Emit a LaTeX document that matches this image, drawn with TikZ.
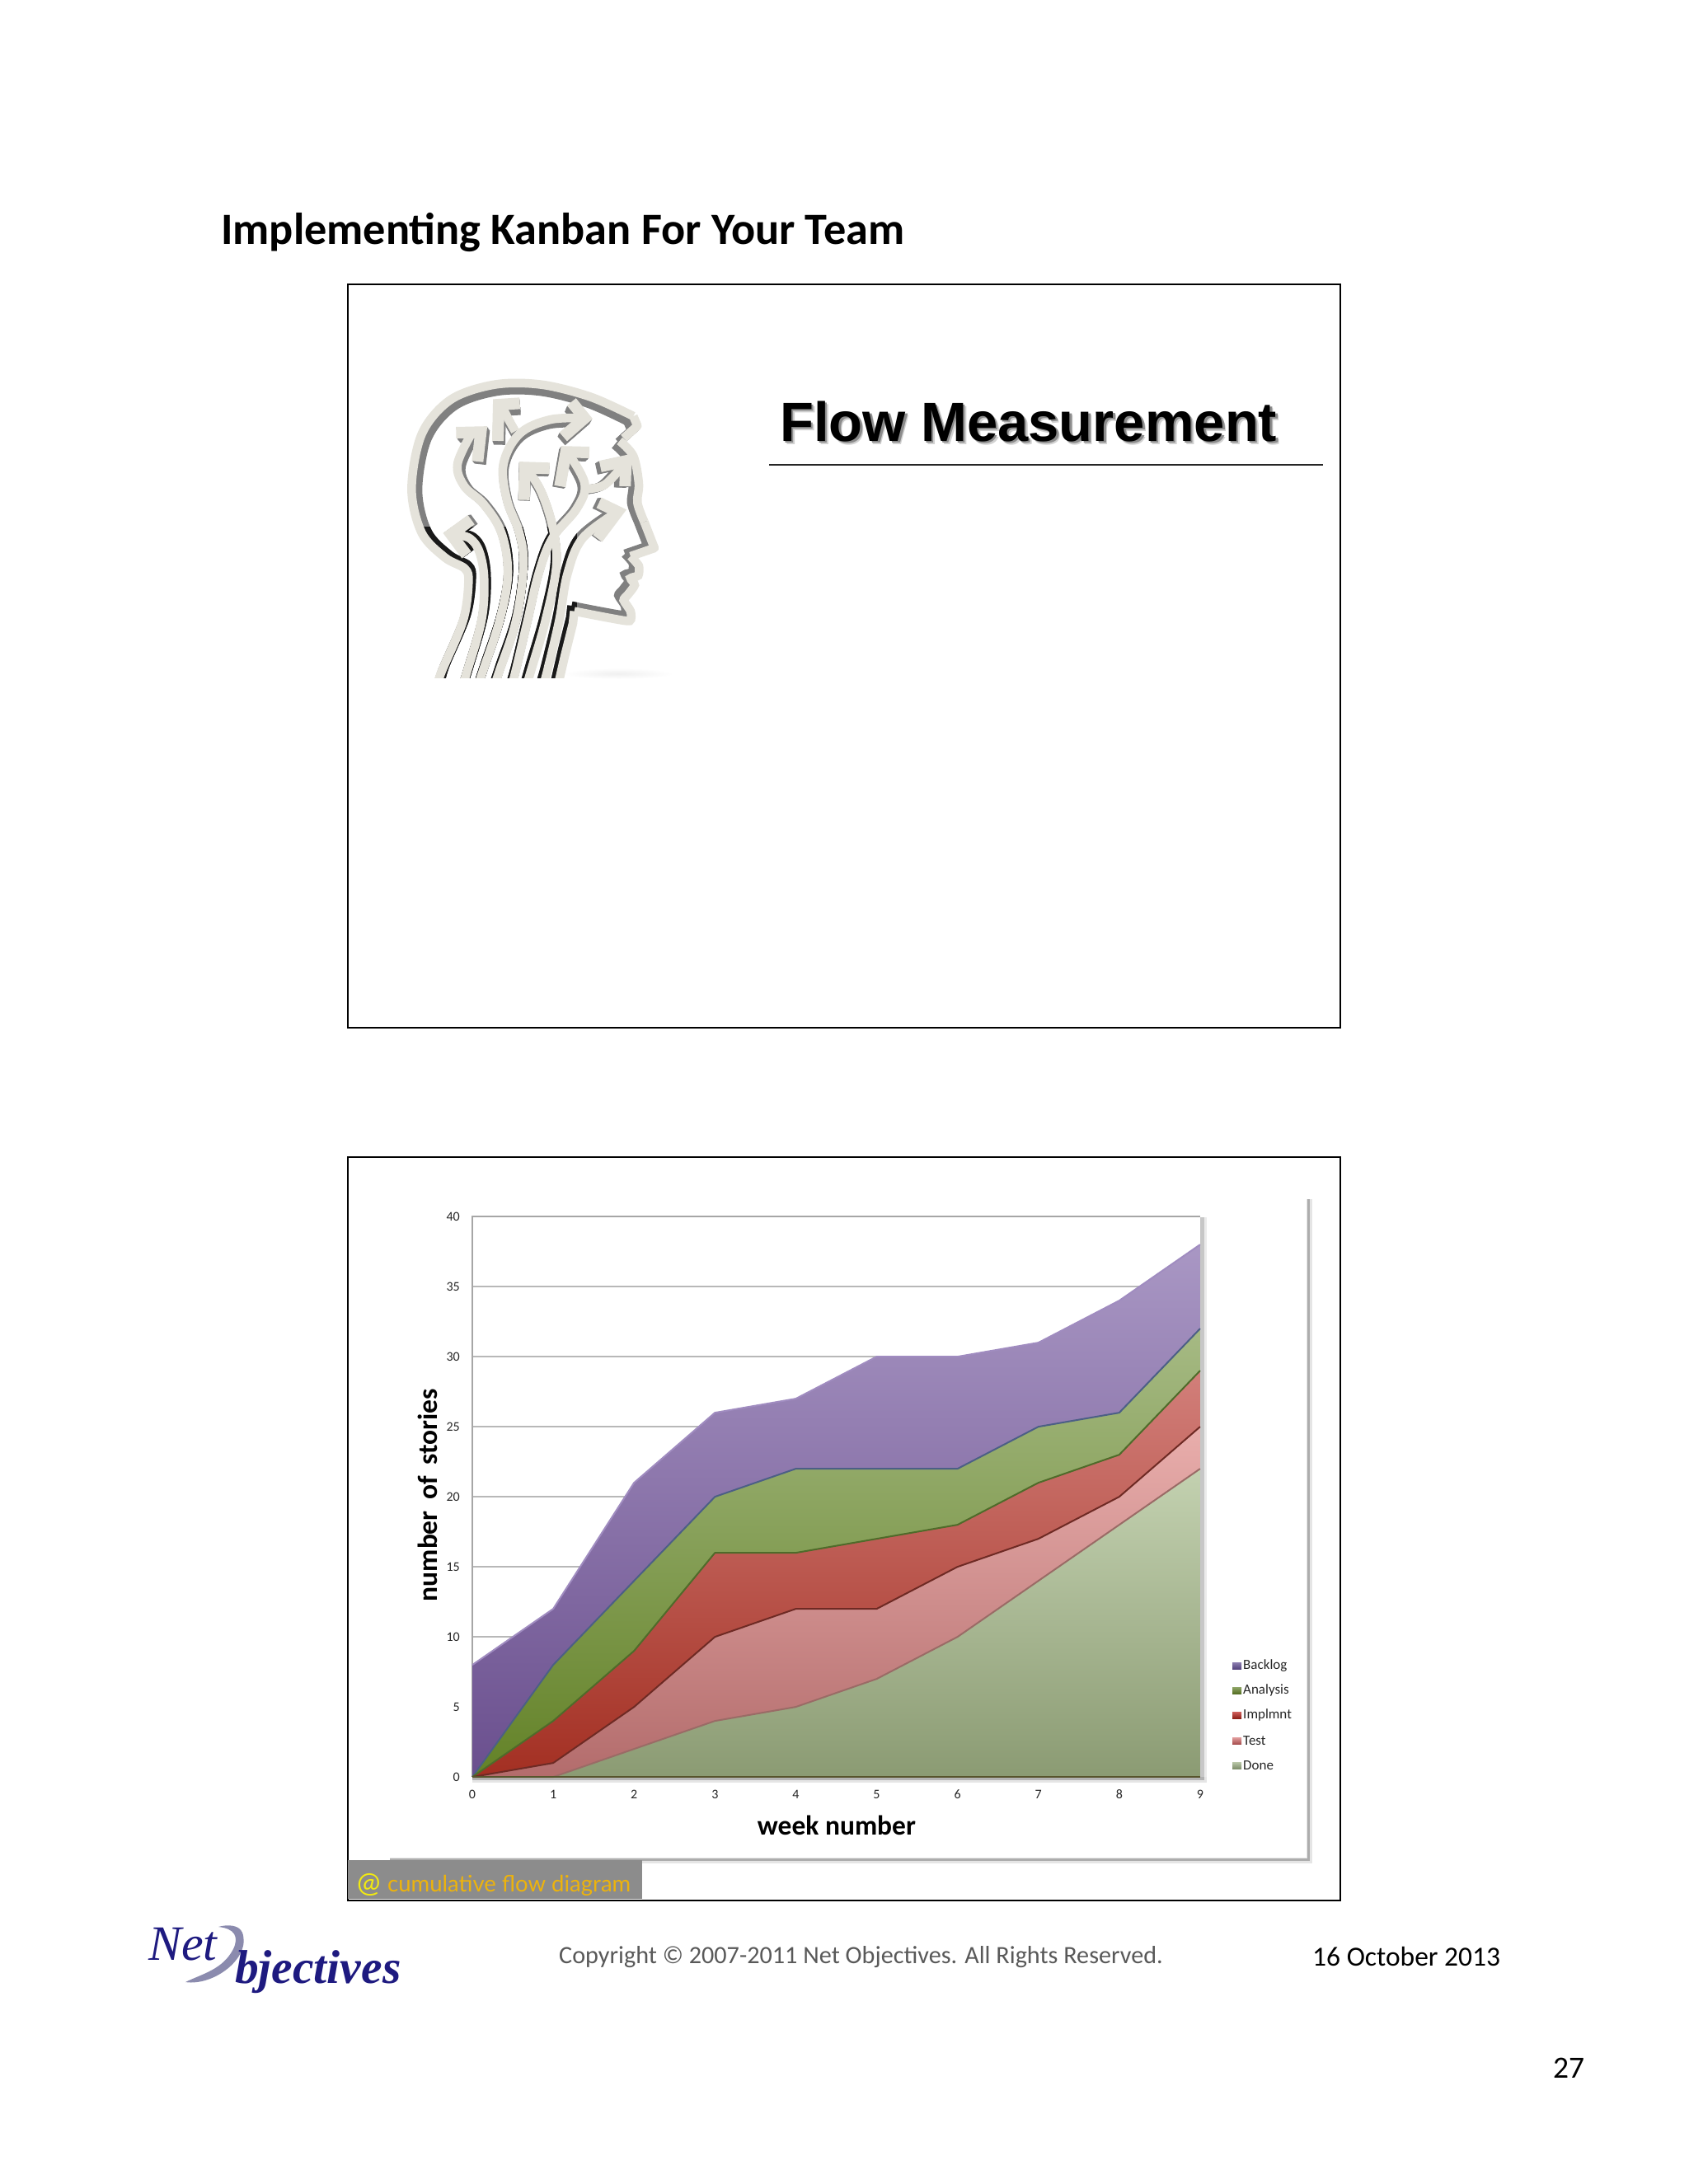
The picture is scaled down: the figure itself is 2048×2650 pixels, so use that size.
\documentclass[tikz,border=0pt]{standalone}
\usepackage{fontspec}
\usetikzlibrary{calc}
\setmainfont{Carlito}
\newfontfamily\helv{Liberation Sans}
\newfontfamily\timesf{Liberation Serif}
\newfontfamily\gill{Lato}
\newcommand\fs[1]{\fontsize{#1}{#1}\selectfont}
\definecolor{bandc}{HTML}{E5E3DB}
\definecolor{navy}{HTML}{1E1A80}
\definecolor{capgold}{HTML}{EDB30C}
\definecolor{capyellow}{HTML}{F2EA10}
\tikzset{
  slideframe/.style={draw=black,line width=2pt,fill=white},
  band/.style={line width=10.5pt,line join=miter,miter limit=3,line cap=butt},
  chevron/.style={line width=14pt,line join=miter,miter limit=4},
  tick/.style={font=\fs{16},text=black!85,inner sep=0pt},
  legendtext/.style={font=\fs{17},text=black!85,anchor=west,inner sep=0pt},
  grid line/.style={draw=black!28,line width=1.3pt},
}
% head pieces, in coordinates of a 3x enlargement of the image
\newcommand\headpaths[1]{%
 \begin{scope}[draw=#1,band]
  % strands behind
  \draw plot[smooth,tension=.6] coordinates {(590,1260)(610,1190)(665,1000)(705,800)(692,660)(650,530)(600,450)};
  \draw[chevron] (680,445)--(590,442)--(587,560);
  \draw plot[smooth,tension=.6] coordinates {(355,1260)(378,1190)(432,1000)(442,850)(425,750)(390,700)(335,685)};
  \draw[chevron] (395,632)--(322,685)--(378,760);
  \draw plot[smooth,tension=.6] coordinates {(412,1260)(435,1190)(498,1000)(528,830)(505,680)(440,575)(370,510)(345,430)(395,320)};
  \draw[chevron] (340,315)--(430,313)--(418,420);
  \draw plot[smooth,tension=.6] coordinates {(555,310)(530,265)(505,215)};
  \draw[chevron] (572,208)--(495,213)--(492,345);
  \draw plot[smooth,tension=.6] coordinates {(472,1260)(495,1190)(558,1000)(585,800)(570,680)(525,560)(512,430)(570,320)(680,268)(805,262)};
  \draw[chevron] (760,203)--(808,262)--(730,330);
  \draw plot[smooth,tension=.6] coordinates {(805,520)(880,505)(955,425)};
  \draw[chevron] (865,438)--(958,418)--(955,510);
  \draw plot[smooth,tension=.6] coordinates {(535,1260)(555,1190)(600,1000)(640,830)(690,700)(780,590)(808,500)(745,385)};
  \draw[chevron] (825,387)--(740,385)--(718,510);
  \draw plot[smooth,tension=.6] coordinates {(650,1260)(670,1190)(715,1000)(745,830)(800,700)(925,605)};
  \draw[chevron] (860,570)--(928,603)--(855,700);
  % outline of the head
  \draw plot[smooth,tension=.55] coordinates {(265,1260)(285,1190)(365,1000)(385,860)(372,810)(300,770)(215,680)(178,520)(215,320)(320,195)(480,140)(650,140)(830,185)(985,255)};
  \draw[line join=round] (985,255)--(1000,290)--(950,335);
  \draw plot[smooth,tension=.55] coordinates {(935,345)(985,400)(1005,500)(1000,570)(1025,640)};
  \draw[line join=round] (1025,640)--(1062,735)--(975,765);
  \draw plot[smooth,tension=.4] coordinates {(975,765)(1005,800)(1003,835)(975,845)(990,870)(965,905)(950,925)(975,965)(972,1000)(900,990)(770,965)};
  \draw (770,965)--(765,1010)--(735,1130)--(705,1260);
 \end{scope}}
\newcommand\extrude[1]{%
 \foreach \s in {.945,.955,.965,.975,.985}{%
  \begin{scope}[shift={(600,600)},scale=\s,shift={(-600,-600)}]
    \headpaths{#1}
  \end{scope}}}
\begin{document}
\begin{tikzpicture}[x=1pt,y=-1pt]
\useasboundingbox (0,0) rectangle (2048,2650);
\fill[white] (0,0) rectangle (2048,2650);
% page title
\node[anchor=base west,inner sep=0pt,font=\bfseries\fs{54.3}] (title) at (268,296) {Implementing Kanban For Your Team};
% top slide
\node[slideframe,minimum width=1204pt,minimum height=902pt,anchor=north west,inner sep=0pt] (slideA) at (421,344) {};
\node[anchor=base west,inner sep=0pt,font=\helv\bfseries\fs{67},text=black!18] (flowshadowb) at (950,539) {Flow Measurement};
\node[anchor=base west,inner sep=0pt,font=\helv\bfseries\fs{67},text=black!45] (flowshadow) at (948.5,537.5) {Flow Measurement};
\node[anchor=base west,inner sep=0pt,font=\helv\bfseries\fs{67}] (flow) at (946,535) {Flow Measurement};
\coordinate (ruleL) at (933,564); \coordinate (ruleR) at (1605,564);
\draw[line width=1.5pt,black!85] (ruleL)--(ruleR);
% head
\begin{scope}[shift={(440,420)},x=.3333pt,y=-.3333pt]
  \shade[inner color=black!6,outer color=white] (930,1192) ellipse (200 and 20);
  \begin{scope}
    \clip (140,100) rectangle (1120,1208);
    \extrude{black!50}
    \begin{scope}
      \clip (140,660) rectangle (780,1208);
      \extrude{black!90}
    \end{scope}
    \headpaths{bandc}
  \end{scope}
\end{scope}
% bottom slide
\node[slideframe,minimum width=1204pt,minimum height=902pt,anchor=north west,inner sep=0pt] (slideB) at (421,1403) {};
\coordinate (panelTR) at (1587,1455); \coordinate (panelBR) at (1587,2256); \coordinate (panelBL) at (473,2256);
\draw[black!10,line width=7pt] ($(panelTR)+(1,0)$)--($(panelBR)+(1,1)$)--($(panelBL)+(0,1)$);
\draw[black!32,line width=3pt] (panelTR)--(panelBR)--(panelBL);
% chart
\begin{scope}[x=98.1pt,y=17pt,shift={(5.841,-126.83)}]
  % (0,0) of the chart is at x=573, y=2156
  \foreach \v in {5,10,...,35} \draw[grid line] (0,\v)--(9,\v);
  \draw[black!35,line width=1.3pt] (0,0)--(0,40)--(9,40);
  \fill[black!8] ($(9,40)+(0pt,-1pt)$) rectangle ($(9,0)+(8pt,-7pt)$);
  \fill[black!22] ($(9,40)+(0pt,-1pt)$) rectangle ($(9,0)+(5pt,-4pt)$);
  \fill[black!10] (0,0) rectangle ($(9,0)+(8pt,-7pt)$);
  \fill[black!30] (0,0) rectangle ($(9,0)+(5pt,-4pt)$);
  \foreach \pts/\ct/\cb/\ce/\mx in {
    {(0,8)(1,12)(2,21)(3,26)(4,27)(5,30)(6,30)(7,31)(8,34)(9,38)}/A997C4/6A4F8E/A08CC0/38,
    {(0,0)(1,8)(2,14)(3,20)(4,22)(5,22)(6,22)(7,25)(8,26)(9,32)}/A6BA84/638227/4C5F86/32,
    {(0,0)(1,4)(2,9)(3,16)(4,16)(5,17)(6,18)(7,21)(8,23)(9,29)}/D27F7A/A32F22/4F6B2A/29,
    {(0,0)(1,1)(2,5)(3,10)(4,12)(5,12)(6,15)(7,17)(8,20)(9,25)}/E9AEAC/B36C6C/6E2A24/25,
    {(0,0)(1,0)(2,2)(3,4)(4,5)(5,7)(6,10)(7,14)(8,18)(9,22)}/C3D1B0/8B9B73/9A6B66/22}{
    \definecolor{areatop}{HTML}{\ct}
    \definecolor{areabot}{HTML}{\cb}
    \definecolor{areaedge}{HTML}{\ce}
    \begin{scope}
      \edef\doclip{\noexpand\clip (0,0) -- plot coordinates {\pts} -- (9,0) -- cycle;}
      \doclip
      \shade[top color=areatop,bottom color=areabot] (0,\mx) rectangle (9,0);
    \end{scope}
    \edef\doedge{\noexpand\draw[areaedge,line width=2pt,line join=round] plot coordinates {\pts};}
    \doedge
  }
  \draw[black!50!olive,line width=2.2pt] (0,0)--(9,0);
  \foreach \v in {0,5,...,40} \node[tick,anchor=east] (yt\v) at ($(0,\v)+(-15pt,0pt)$) {\v};
  \foreach \v in {0,...,9} \node[tick] (xt\v) at ($(\v,0)+(0pt,-21pt)$) {\v};
\end{scope}
\node[font=\bfseries\fs{33.5},inner sep=0pt] (xlabel) at (1015,2215) {week number};
\node[font=\bfseries\fs{33.5},inner sep=0pt,rotate=90] (ylabel) at (519,1814) {number\hspace{6pt} of\hspace{6pt} stories};
% legend
\foreach \n/\t/\ct/\cb/\yy in {a/Backlog/8D7FB0/55447E/2021,b/Analysis/8FA668/566F24/2051,c/Implmnt/D0605C/8E2018/2081,d/Test/E39E9E/A85050/2112,e/Done/B9C7A8/7F8F6C/2142}{
  \definecolor{areatop}{HTML}{\ct}
  \definecolor{areabot}{HTML}{\cb}
  \shade[top color=areatop,bottom color=areabot] (1495,\yy-4) rectangle (1506,\yy+4);
  \node[legendtext] (leg\n) at (1508,\yy) {\t};
}
% caption strip
\fill[black!45] (422,2257) rectangle (779,2304);
\node[anchor=base west,inner sep=0pt,font=\gill\fs{34},text=capyellow] (at) at (433,2296) {@};
\node[anchor=base west,inner sep=0pt,font=\gill\fs{27.5},text=capgold] (capt) at (470,2295) {cumulative flow diagram};
% logo
\path[fill=black!35!blue!30!gray!70] (225,2405) .. controls (260,2410) and (305,2375) .. (294,2345) .. controls (290,2335) and (275,2335) .. (265,2338) .. controls (285,2340) and (290,2350) .. (283,2365) .. controls (270,2390) and (245,2395) .. (225,2405);
\node[anchor=base west,inner sep=0pt,font=\timesf\itshape\fs{60},text=navy] (lognet) at (180,2378) {Net};
\node[anchor=base west,inner sep=0pt,font=\timesf\itshape\bfseries\fs{57.5},text=navy] (logobj) at (285,2406) {bjectives};
% footer
\node[anchor=west,inner sep=0pt,font=\fs{30.2},text=black!65] (copy) at (678,2375) {Copyright © 2007-2011 Net Objectives. All Rights Reserved.};
\node[anchor=west,inner sep=0pt,font=\fs{33.5}] (date) at (1592,2374) {16 October 2013};
\node[anchor=west,inner sep=0pt,font=\fs{37.5}] (page) at (1884,2509) {27};
\end{tikzpicture}
\end{document}
